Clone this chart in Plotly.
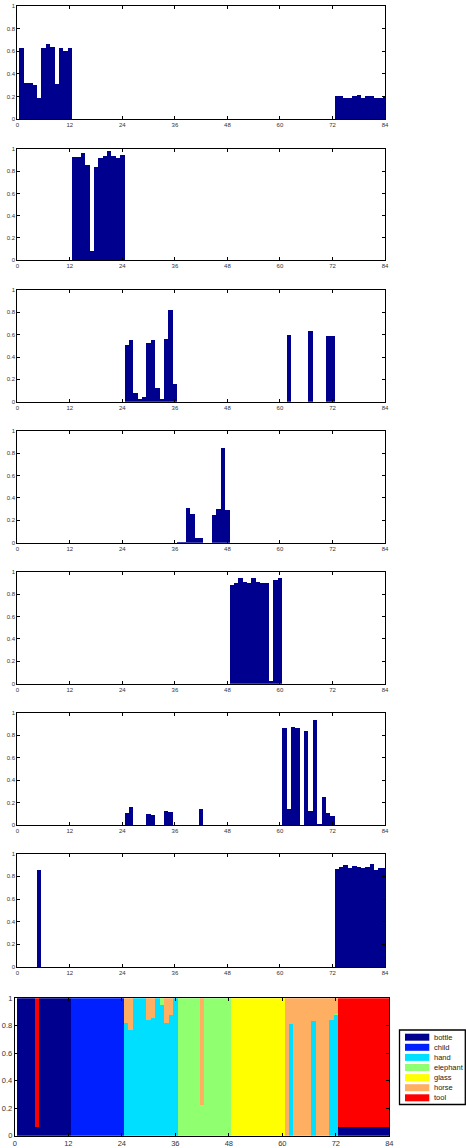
import plotly.graph_objects as go

# ---------------- data ----------------
samples = list(range(1, 85))
x_ticks = [0, 12, 24, 36, 48, 60, 72, 84]
y_ticks = [0, 0.2, 0.4, 0.6, 0.8, 1]
y_tick_text = ["0", "0.2", "0.4", "0.6", "0.8", "1"]

categories = ["bottle", "child", "hand", "elephant", "glass", "horse", "tool"]
cat_colors = ["#00008F", "#0020FF", "#00DFFF", "#90FF70", "#FFFF00", "#FFAF62", "#FF0000"]

# per-panel scores (samples 1..84, rows of 12)
panel1 = [0.63, 0.32, 0.32, 0.30, 0.19, 0.63, 0.66, 0.64, 0.31, 0.63, 0.60, 0.63,
          0, 0, 0, 0, 0, 0, 0, 0, 0, 0, 0, 0,
          0, 0, 0, 0, 0, 0, 0, 0, 0, 0, 0, 0,
          0, 0, 0, 0, 0, 0, 0, 0, 0, 0, 0, 0,
          0, 0, 0, 0, 0, 0, 0, 0, 0, 0, 0, 0,
          0, 0, 0, 0, 0, 0, 0, 0, 0, 0, 0, 0,
          0.20, 0.20, 0.19, 0.19, 0.20, 0.21, 0.19, 0.20, 0.20, 0.19, 0.19, 0.20]
panel2 = [0, 0, 0, 0, 0, 0, 0, 0, 0, 0, 0, 0,
          0.925, 0.925, 0.96, 0.86, 0.085, 0.835, 0.915, 0.935, 0.985, 0.94, 0.915, 0.95,
          0, 0, 0, 0, 0, 0, 0, 0, 0, 0, 0, 0,
          0, 0, 0, 0, 0, 0, 0, 0, 0, 0, 0, 0,
          0, 0, 0, 0, 0, 0, 0, 0, 0, 0, 0, 0,
          0, 0, 0, 0, 0, 0, 0, 0, 0, 0, 0, 0,
          0, 0, 0, 0, 0, 0, 0, 0, 0, 0, 0, 0]
panel3 = [0, 0, 0, 0, 0, 0, 0, 0, 0, 0, 0, 0,
          0, 0, 0, 0, 0, 0, 0, 0, 0, 0, 0, 0,
          0.505, 0.55, 0.08, 0.025, 0.04, 0.53, 0.55, 0.12, 0.025, 0.56, 0.82, 0.16,
          0, 0, 0, 0, 0, 0, 0, 0, 0, 0, 0, 0,
          0, 0, 0, 0, 0, 0, 0, 0, 0, 0, 0, 0,
          0, 0.60, 0, 0, 0, 0, 0.635, 0, 0, 0, 0.585, 0.585,
          0, 0, 0, 0, 0, 0, 0, 0, 0, 0, 0, 0]
panel4 = [0, 0, 0, 0, 0, 0, 0, 0, 0, 0, 0, 0,
          0, 0, 0, 0, 0, 0, 0, 0, 0, 0, 0, 0,
          0, 0, 0, 0, 0, 0, 0, 0, 0, 0, 0, 0,
          0.008, 0.005, 0.31, 0.255, 0.04, 0.04, 0, 0, 0.245, 0.30, 0.85, 0.29,
          0, 0, 0, 0, 0, 0, 0, 0, 0, 0, 0, 0,
          0, 0, 0, 0, 0, 0, 0, 0, 0, 0, 0, 0,
          0, 0, 0, 0, 0, 0, 0, 0, 0, 0, 0, 0]
panel5 = [0, 0, 0, 0, 0, 0, 0, 0, 0, 0, 0, 0,
          0, 0, 0, 0, 0, 0, 0, 0, 0, 0, 0, 0,
          0, 0, 0, 0, 0, 0, 0, 0, 0, 0, 0, 0,
          0, 0, 0, 0, 0, 0, 0, 0, 0, 0, 0, 0,
          0.885, 0.90, 0.94, 0.91, 0.895, 0.945, 0.91, 0.895, 0.90, 0.025, 0.93, 0.94,
          0, 0, 0, 0, 0, 0, 0, 0, 0, 0, 0, 0,
          0, 0, 0, 0, 0, 0, 0, 0, 0, 0, 0, 0]
panel6 = [0, 0, 0, 0, 0, 0, 0, 0, 0, 0, 0, 0,
          0, 0, 0, 0, 0, 0, 0, 0, 0, 0, 0, 0,
          0.107, 0.16, 0, 0, 0, 0.098, 0.089, 0, 0, 0.124, 0.116, 0,
          0, 0, 0, 0, 0, 0.142, 0, 0, 0, 0, 0, 0,
          0, 0, 0, 0, 0, 0, 0, 0, 0, 0, 0, 0,
          0.862, 0.142, 0.871, 0.862, 0, 0.836, 0.124, 0.933, 0.009, 0.249, 0.107, 0.08,
          0, 0, 0, 0, 0, 0, 0, 0, 0, 0, 0, 0]
panel7 = [0, 0, 0, 0, 0.86, 0, 0, 0, 0, 0, 0, 0,
          0, 0, 0, 0, 0, 0, 0, 0, 0, 0, 0, 0,
          0, 0, 0, 0, 0, 0, 0, 0, 0, 0, 0, 0,
          0, 0, 0, 0, 0, 0, 0, 0, 0, 0, 0, 0,
          0, 0, 0, 0, 0, 0, 0, 0, 0, 0, 0, 0,
          0, 0, 0, 0, 0, 0, 0, 0, 0, 0, 0, 0,
          0.862, 0.885, 0.897, 0.87, 0.888, 0.88, 0.87, 0.88, 0.912, 0.853, 0.87, 0.87]

# stacked class proportions (samples 1..84, rows of 12)
frac_bottle = [1, 1, 1, 1, 0.06, 1, 1, 1, 1, 1, 1, 1,
               0, 0, 0, 0, 0, 0, 0, 0, 0, 0, 0, 0,
               0, 0, 0, 0, 0, 0, 0, 0, 0, 0, 0, 0,
               0, 0, 0, 0, 0, 0, 0, 0, 0, 0, 0, 0,
               0, 0, 0, 0, 0, 0, 0, 0, 0, 0, 0, 0,
               0, 0, 0, 0, 0, 0, 0, 0, 0, 0, 0, 0,
               0.06, 0.06, 0.06, 0.06, 0.06, 0.06, 0.06, 0.06, 0.06, 0.06, 0.06, 0.06]
frac_child = [0, 0, 0, 0, 0, 0, 0, 0, 0, 0, 0, 0,
              1, 1, 1, 1, 1, 1, 1, 1, 1, 1, 1, 1,
              0, 0, 0, 0, 0, 0, 0, 0, 0, 0, 0, 0,
              0, 0, 0, 0, 0, 0, 0, 0, 0, 0, 0, 0,
              0, 0, 0, 0, 0, 0, 0, 0, 0, 0, 0, 0,
              0, 0, 0, 0, 0, 0, 0, 0, 0, 0, 0, 0,
              0, 0, 0, 0, 0, 0, 0, 0, 0, 0, 0, 0]
frac_hand = [0, 0, 0, 0, 0, 0, 0, 0, 0, 0, 0, 0,
             0, 0, 0, 0, 0, 0, 0, 0, 0, 0, 0, 0,
             0.82, 0.77, 1, 1, 1, 0.84, 0.855, 1, 0.95, 0.82, 0.88, 1,
             0, 0, 0, 0, 0, 0, 0, 0, 0, 0, 0, 0,
             0, 0, 0, 0, 0, 0, 0, 0, 0, 0, 0, 0,
             0, 0.81, 0, 0, 0, 0, 0.835, 0, 0, 0, 0.84, 0.875,
             0, 0, 0, 0, 0, 0, 0, 0, 0, 0, 0, 0]
frac_elephant = [0, 0, 0, 0, 0, 0, 0, 0, 0, 0, 0, 0,
                 0, 0, 0, 0, 0, 0, 0, 0, 0, 0, 0, 0,
                 0, 0, 0, 0, 0, 0, 0, 0, 0.05, 0, 0, 0,
                 1, 1, 1, 1, 1, 0.22, 1, 1, 1, 1, 1, 1,
                 0, 0, 0, 0, 0, 0, 0, 0, 0, 0, 0, 0,
                 0, 0, 0, 0, 0, 0, 0, 0, 0, 0, 0, 0.01,
                 0, 0, 0, 0, 0, 0, 0, 0, 0, 0, 0, 0]
frac_glass = [0, 0, 0, 0, 0, 0, 0, 0, 0, 0, 0, 0,
              0, 0, 0, 0, 0, 0, 0, 0, 0, 0, 0, 0,
              0, 0, 0, 0, 0, 0, 0, 0, 0, 0, 0, 0,
              0, 0, 0, 0, 0, 0, 0, 0, 0, 0, 0, 0,
              1, 1, 1, 1, 1, 1, 1, 1, 1, 1, 1, 1,
              0, 0, 0, 0, 0, 0, 0, 0, 0, 0, 0, 0,
              0, 0, 0, 0, 0, 0, 0, 0, 0, 0, 0, 0]
frac_horse = [0, 0, 0, 0, 0, 0, 0, 0, 0, 0, 0, 0,
              0, 0, 0, 0, 0, 0, 0, 0, 0, 0, 0, 0,
              0.18, 0.23, 0, 0, 0, 0.16, 0.145, 0, 0, 0.18, 0.12, 0,
              0, 0, 0, 0, 0, 0.78, 0, 0, 0, 0, 0, 0,
              0, 0, 0, 0, 0, 0, 0, 0, 0, 0, 0, 0,
              1, 0.19, 1, 1, 1, 1, 0.165, 1, 1, 1, 0.16, 0.115,
              0, 0, 0, 0, 0, 0, 0, 0, 0, 0, 0, 0]
frac_tool = [0, 0, 0, 0, 0.94, 0, 0, 0, 0, 0, 0, 0,
             0, 0, 0, 0, 0, 0, 0, 0, 0, 0, 0, 0,
             0, 0, 0, 0, 0, 0, 0, 0, 0, 0, 0, 0,
             0, 0, 0, 0, 0, 0, 0, 0, 0, 0, 0, 0,
             0, 0, 0, 0, 0, 0, 0, 0, 0, 0, 0, 0,
             0, 0, 0, 0, 0, 0, 0, 0, 0, 0, 0, 0,
             0.94, 0.94, 0.94, 0.94, 0.94, 0.94, 0.94, 0.94, 0.94, 0.94, 0.94, 0.94]

panels = [panel1, panel2, panel3, panel4, panel5, panel6, panel7]
fractions = [frac_bottle, frac_child, frac_hand, frac_elephant, frac_glass, frac_horse, frac_tool]

# ---------------- layout helpers ----------------
W, H = 466, 1148
BAR_COLOR = "#00008F"
FONT = "Liberation Sans, Arial, Helvetica, sans-serif"

top_px = [6, 149, 290, 430.7, 571.7, 712.7, 853.7]
bot_px = [119, 260, 401.7, 542.7, 683.7, 825, 967]
small_x = [17.3, 385]
big_x = [14.8, 389.3]
big_y = [998.3, 1135.7]


def xdom(a, b):
    return [a / W, b / W]


def ydom(t, b):
    return [1 - b / H, 1 - t / H]


def axis_style(size):
    return dict(showline=True, linecolor="black", linewidth=1, mirror="ticks",
                ticks="inside", ticklen=3, tickcolor="black", tickwidth=1,
                showgrid=False, zeroline=False, automargin=False,
                tickfont=dict(family=FONT, size=size, color="#333333"))


fig = go.Figure()

for i, vals in enumerate(panels):
    sfx = "" if i == 0 else str(i + 1)
    fig.add_trace(go.Bar(x=samples, y=vals, width=1, showlegend=False,
                         marker=dict(color=BAR_COLOR, line=dict(width=0)),
                         xaxis="x" + sfx, yaxis="y" + sfx))
    fig.layout["xaxis" + sfx] = dict(domain=xdom(*small_x), anchor="y" + sfx, range=[0, 84],
                                     tickmode="array", tickvals=x_ticks,
                                     ticktext=[str(v) for v in x_ticks], **axis_style(6))
    fig.layout["yaxis" + sfx] = dict(domain=ydom(top_px[i], bot_px[i]), anchor="x" + sfx,
                                     range=[0, 1], tickmode="array", tickvals=y_ticks,
                                     ticktext=y_tick_text, **axis_style(6))

for name, col, vals in zip(categories, cat_colors, fractions):
    fig.add_trace(go.Bar(x=samples, y=vals, width=1, name=name, showlegend=False,
                         marker=dict(color=col, line=dict(width=0)),
                         xaxis="x8", yaxis="y8"))
fig.layout["xaxis8"] = dict(domain=xdom(*big_x), anchor="y8", range=[0, 84],
                            tickmode="array", tickvals=x_ticks,
                            ticktext=[str(v) for v in x_ticks], **axis_style(7.5))
fig.layout["yaxis8"] = dict(domain=ydom(*big_y), anchor="x8", range=[0, 1],
                            tickmode="array", tickvals=y_ticks, ticktext=y_tick_text,
                            **axis_style(7.5))

# manual legend box (MATLAB style)
shapes = [dict(type="rect", xref="paper", yref="paper",
               x0=399.5 / W, x1=465.3 / W, y0=1 - 1104.5 / H, y1=1 - 1030 / H,
               line=dict(color="black", width=1.3), fillcolor="white", layer="above")]
annotations = []
for k, (name, col) in enumerate(zip(categories, cat_colors)):
    top = 1033.7 + k * 10.1
    shapes.append(dict(type="rect", xref="paper", yref="paper",
                       x0=405 / W, x1=429.3 / W, y0=1 - (top + 7) / H, y1=1 - top / H,
                       line=dict(width=0), fillcolor=col, layer="above"))
    annotations.append(dict(xref="paper", yref="paper", x=431.5 / W, y=1 - (top + 3.5) / H,
                            text=name, showarrow=False, xanchor="left", yanchor="middle",
                            font=dict(family=FONT, size=7.5, color="#222222")))

fig.update_layout(width=W, height=H, autosize=False, barmode="stack", bargap=0,
                  margin=dict(l=0, r=0, t=0, b=0),
                  paper_bgcolor="white", plot_bgcolor="white",
                  shapes=shapes, annotations=annotations, showlegend=False)

fig.write_html("out.html",
               config={"displayModeBar": False, "staticPlot": True},
               post_script="document.body.style.margin='0';"
                           "document.body.style.padding='0';"
                           "document.body.style.overflow='hidden';"
                           "document.documentElement.style.overflow='hidden';")
